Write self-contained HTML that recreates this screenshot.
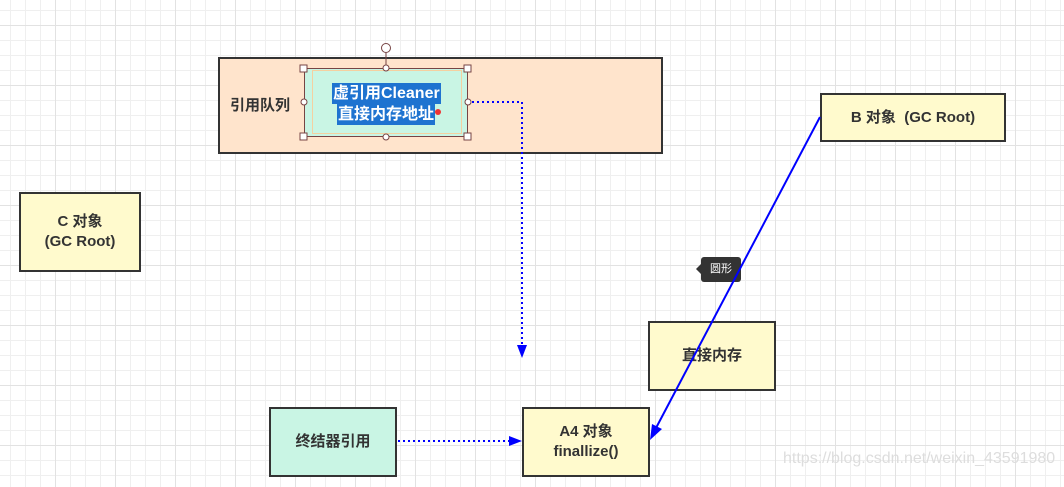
<!DOCTYPE html>
<html><head><meta charset="utf-8"><style>
body{margin:0;width:1064px;height:487px;overflow:hidden;position:relative;background:#fff;
background-image:linear-gradient(#e2e2e2 1px,transparent 1px),linear-gradient(90deg,#e2e2e2 1px,transparent 1px),linear-gradient(#efefef 1px,transparent 1px),linear-gradient(90deg,#efefef 1px,transparent 1px);
background-size:60px 60px,60px 60px,15px 15px,15px 15px;background-position:55px 25px,55px 25px,10px 10px,10px 10px;
font-family:"Liberation Sans","Noto Sans CJK SC",sans-serif;font-weight:bold;color:#333}
.b{position:absolute;box-sizing:border-box;border:2px solid #333;display:flex;align-items:center;justify-content:center;text-align:center;font-size:15px;line-height:20px}
.y{background:#fffacd}
.g{background:#c9f5e4}
</style></head><body>
<div class="b" style="left:218px;top:57px;width:445px;height:97px;background:#ffe4cc;justify-content:flex-start;padding-left:10px">引用队列</div>
<div class="b g" style="left:304px;top:68px;width:164px;height:69px;border:1.5px solid #744;"></div>
<div style="position:absolute;left:312px;top:70px;width:150px;height:64px;border:1px solid #f5d0a0;box-sizing:border-box"></div>
<div style="position:absolute;left:332px;top:83px;font-size:16px;line-height:21px;color:#fff">
<span style="background:#1e73d0;display:inline-block;padding:0 1px">虚引用Cleaner</span><br>
<span style="background:#1e73d0;display:inline-block;margin-left:5px;padding:0 1px">直接内存地址</span></div>
<div class="b y" style="left:19px;top:192px;width:122px;height:80px">C 对象<br>(GC Root)</div>
<div class="b y" style="left:820px;top:93px;width:186px;height:49px">B 对象&nbsp;&nbsp;(GC Root)</div>
<div class="b y" style="left:648px;top:321px;width:128px;height:70px">直接内存</div>
<div class="b g" style="left:269px;top:407px;width:128px;height:70px">终结器引用</div>
<div class="b y" style="left:522px;top:407px;width:128px;height:70px">A4 对象<br>finallize()</div>
<div style="position:absolute;left:701px;top:257px;width:40px;height:25px;background:#333;border-radius:3px;color:#fff;font-size:11px;font-weight:normal;line-height:25px;text-align:center">圆形</div>
<div style="position:absolute;left:696px;top:264px;width:0;height:0;border-top:5px solid transparent;border-bottom:5px solid transparent;border-right:5px solid #333"></div>
<div style="position:absolute;left:783px;top:450px;font-size:16px;font-weight:normal;color:#ddd">https://blog.csdn.net/weixin_43591980</div>
<svg width="1064" height="487" style="position:absolute;left:0;top:0">
<g fill="#fff" stroke="#744" stroke-width="1">
<line x1="386" y1="53" x2="386" y2="68"/>
<circle cx="386" cy="48" r="4.5"/>
<rect x="300" y="65" width="7" height="7"/><rect x="464" y="65" width="7" height="7"/>
<rect x="300" y="133" width="7" height="7"/><rect x="464" y="133" width="7" height="7"/>
<circle cx="386" cy="68" r="3"/><circle cx="386" cy="137" r="3"/>
<circle cx="304" cy="102" r="3"/><circle cx="468" cy="102" r="3"/>
</g>
<circle cx="438" cy="112" r="3" fill="#e33"/>
<polyline points="472,102 522,102 522,347" fill="none" stroke="#00f" stroke-width="2" stroke-dasharray="2,3"/>
<polygon points="517,345 527,345 522,358" fill="#00f"/>
<line x1="398" y1="441" x2="512" y2="441" stroke="#00f" stroke-width="2" stroke-dasharray="2,3"/>
<polygon points="509,436 522,441 509,446" fill="#00f"/>
<line x1="820" y1="117" x2="656" y2="428" stroke="#00f" stroke-width="2"/>
<polygon points="650,440 652,424 662,429" fill="#00f"/>
</svg>
</body></html>
